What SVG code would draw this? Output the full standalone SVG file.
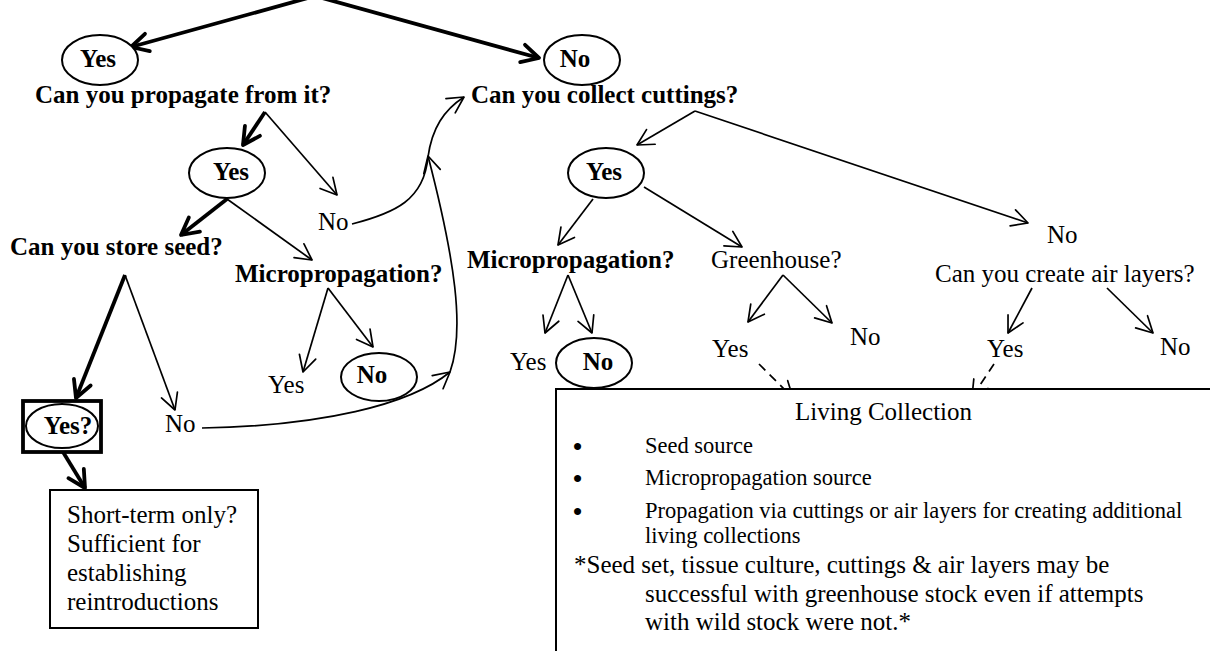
<svg xmlns="http://www.w3.org/2000/svg" width="1210" height="651" viewBox="0 0 1210 651" font-family="'Liberation Serif', 'Times New Roman', serif">
  <style>
    text { font-family: "Liberation Serif", "Times New Roman", serif; fill: #000; }
    .b { font-weight: bold; font-size: 25px; }
    .r { font-size: 25px; }
    .s { font-size: 22.5px; }
    .dot { font-size: 26px; font-weight: bold; }
    .mid { text-anchor: middle; }
    .node { fill: #fff; stroke: #000; stroke-width: 2; }
    .thin { fill: none; stroke: #000; stroke-width: 1.7; marker-end: url(#ah); }
    .thick { fill: none; stroke: #000; stroke-width: 3.8; marker-end: url(#ahb); }
    .plain { fill: none; stroke: #000; stroke-width: 1.7; }
    .dash { fill: none; stroke: #000; stroke-width: 1.7; stroke-dasharray: 9 6; marker-end: url(#ah); }
  </style>
  <defs>
    <marker id="ah" markerUnits="userSpaceOnUse" orient="auto" overflow="visible" markerWidth="1" markerHeight="1" refX="0" refY="0">
      <path d="M-16,-8.5 L0,0 L-16,8.5" fill="none" stroke="#000" stroke-width="1.7" stroke-linejoin="round" stroke-linecap="round"/>
    </marker>
    <marker id="ahb" markerUnits="userSpaceOnUse" orient="auto" overflow="visible" markerWidth="1" markerHeight="1" refX="0" refY="0">
      <path d="M-17,-9 L0,0 L-17,9" fill="none" stroke="#000" stroke-width="3.8" stroke-linejoin="round" stroke-linecap="round"/>
    </marker>
  </defs>
  <rect width="1210" height="651" fill="#fff"/>

  <!-- connectors -->
  <g id="connectors">
    <!-- root split -->
    <path class="thick" d="M315,-4 L131,47"/>
    <path class="thick" d="M315,-4 L539,58"/>
    <!-- can you propagate -->
    <path class="thick" d="M265,112 L243,145"/>
    <path class="thin" d="M265,112 L337,195"/>
    <!-- yes (propagate) -->
    <path class="thick" d="M227,199 L181,235"/>
    <path class="thin" d="M227,199 L312,260"/>
    <!-- micropropagation (left) -->
    <path class="thin" d="M328,288 L303,372"/>
    <path class="thin" d="M328,288 L373,347"/>
    <!-- store seed -->
    <path class="thick" d="M125,275 L76,398"/>
    <path class="thin" d="M125,275 L175,410"/>
    <!-- yes? to short-term box -->
    <path class="thick" d="M63,452 L85,488"/>
    <!-- loops back to cuttings question -->
    <path class="thin" d="M202,428 C320,426 410,405 450,372"/>
    <path class="thin" d="M450,372 C465,330 455,260 428,156"/>
    <path class="plain" d="M352,224 C395,213 424,200 428,157"/>
    <path class="thin" d="M428,157 C432,128 444,110 464,97"/>
    <!-- can you collect cuttings -->
    <path class="thin" d="M695,111 L637,145"/>
    <path class="thin" d="M695,111 L1028,223"/>
    <!-- yes (cuttings) -->
    <path class="thin" d="M593,199 L558,245"/>
    <path class="thin" d="M644,187 L742,247"/>
    <!-- micropropagation (right) -->
    <path class="thin" d="M568,275 L545,333"/>
    <path class="thin" d="M568,275 L592,333"/>
    <!-- greenhouse -->
    <path class="thin" d="M783,275 L748,322"/>
    <path class="thin" d="M783,275 L832,323"/>
    <!-- air layers -->
    <path class="thin" d="M1032,288 L1008,333"/>
    <path class="thin" d="M1107,288 L1153,333"/>
    <!-- into living collection -->
    <path class="dash" d="M759,364 L793,398"/>
    <path class="dash" d="M994,364 L972,397"/>
  </g>

  <g id="yes-root">
    <ellipse class="node" cx="100" cy="60" rx="38" ry="25"/>
    <text class="b mid" x="98" y="67">Yes</text>
  </g>
  <g id="no-root">
    <ellipse class="node" cx="582" cy="60" rx="38" ry="25"/>
    <text class="b mid" x="575" y="67">No</text>
  </g>
  <g id="q-propagate">
    <text class="b" x="35" y="103">Can you propagate from it?</text>
  </g>
  <g id="q-cuttings">
    <text class="b" x="471" y="103">Can you collect cuttings?</text>
  </g>
  <g id="yes-propagate">
    <ellipse class="node" cx="227" cy="173" rx="38" ry="25"/>
    <text class="b mid" x="231" y="180">Yes</text>
  </g>
  <g id="no-propagate">
    <text class="r" x="318" y="230">No</text>
  </g>
  <g id="q-store-seed">
    <text class="b" x="10" y="255">Can you store seed?</text>
  </g>
  <g id="q-micro-left">
    <text class="b" x="235" y="282">Micropropagation?</text>
  </g>
  <g id="yes-micro-left">
    <text class="r" x="268" y="393">Yes</text>
  </g>
  <g id="no-micro-left">
    <ellipse class="node" cx="379" cy="377" rx="38" ry="24"/>
    <text class="b mid" x="372" y="383">No</text>
  </g>
  <g id="yes-store">
    <rect x="23" y="401" width="78" height="51" fill="#fff" stroke="#000" stroke-width="3.8"/>
    <ellipse class="node" cx="62" cy="426" rx="36" ry="22"/>
    <text class="b mid" x="68" y="434">Yes?</text>
  </g>
  <g id="no-store">
    <text class="r" x="165" y="432">No</text>
  </g>
  <g id="short-term">
    <rect x="50" y="490" width="208" height="138" fill="#fff" stroke="#000" stroke-width="2"/>
    <text class="r" x="67" y="523">Short-term only?</text>
    <text class="r" x="67" y="552">Sufficient for</text>
    <text class="r" x="67" y="581">establishing</text>
    <text class="r" x="67" y="610">reintroductions</text>
  </g>
  <g id="yes-cuttings">
    <ellipse class="node" cx="606" cy="173" rx="38" ry="25"/>
    <text class="b mid" x="604" y="180">Yes</text>
  </g>
  <g id="no-cuttings">
    <text class="r" x="1047" y="243">No</text>
  </g>
  <g id="q-micro-right">
    <text class="b" x="467" y="268">Micropropagation?</text>
  </g>
  <g id="yes-micro-right">
    <text class="r" x="510" y="370">Yes</text>
  </g>
  <g id="no-micro-right">
    <ellipse class="node" cx="594" cy="363" rx="38" ry="25"/>
    <text class="b mid" x="598" y="370">No</text>
  </g>
  <g id="q-greenhouse">
    <text class="r" x="711" y="268">Greenhouse?</text>
  </g>
  <g id="yes-greenhouse">
    <text class="r" x="712" y="357">Yes</text>
  </g>
  <g id="no-greenhouse">
    <text class="r" x="850" y="345">No</text>
  </g>
  <g id="q-air-layers">
    <text class="r" x="935" y="282">Can you create air layers?</text>
  </g>
  <g id="yes-air">
    <text class="r" x="987" y="357">Yes</text>
  </g>
  <g id="no-air">
    <text class="r" x="1160" y="355">No</text>
  </g>
  <g id="living-collection">
    <rect x="556" y="389" width="700" height="320" fill="#fff" stroke="#000" stroke-width="2"/>
    <text class="r" x="795" y="420">Living Collection</text>
    <text class="dot" x="573" y="455">•</text>
    <text class="s" x="645" y="453">Seed source</text>
    <text class="dot" x="573" y="487">•</text>
    <text class="s" x="645" y="485">Micropropagation source</text>
    <text class="dot" x="573" y="520">•</text>
    <text class="s" x="645" y="518">Propagation via cuttings or air layers for creating additional</text>
    <text class="s" x="645" y="543">living collections</text>
    <text class="r" x="574" y="573">*Seed set, tissue culture, cuttings &amp; air layers may be</text>
    <text class="r" x="645" y="602">successful with greenhouse stock even if attempts</text>
    <text class="r" x="645" y="630">with wild stock were not.*</text>
  </g>
</svg>
